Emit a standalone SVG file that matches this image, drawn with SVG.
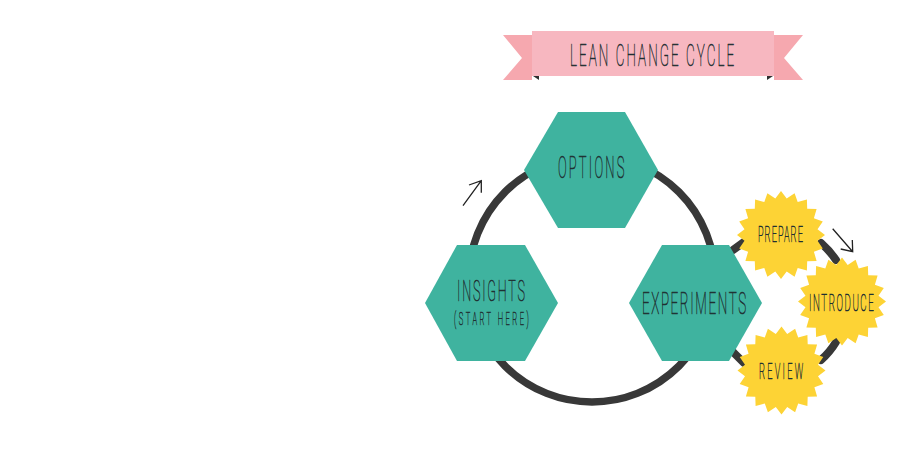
<svg xmlns="http://www.w3.org/2000/svg" width="912" height="456" viewBox="0 0 912 456">
<style>
.hex{fill:#3fb39f}
.burst{fill:#fdd335}
.tail{fill:#f6a8af}
.fold{fill:#2f2f2f}
.ring{fill:none;stroke:#383838;stroke-width:7.500}
.seg{fill:none;stroke:#383838;stroke-width:8;stroke-linecap:round}
.arrow{fill:none;stroke:#222;stroke-width:1.300}
text{font-family:"Roboto","Liberation Sans",sans-serif;font-weight:100;fill:#1f3032;stroke:#1f3032;stroke-width:.6}
</style>
<defs>
<polygon id="star" points="0,-44 5.700,-36.500 13.600,-41.800 16.700,-32.900 25.900,-35.600 26.200,-26.200 35.600,-25.900 32.900,-16.700 41.800,-13.600 36.500,-5.700 44,0 36.500,5.700 41.800,13.600 32.900,16.700 35.600,25.900 26.200,26.200 25.900,35.600 16.700,32.900 13.600,41.800 5.700,36.500 0,44 -5.700,36.500 -13.600,41.800 -16.700,32.900 -25.900,35.600 -26.200,26.200 -35.600,25.900 -32.900,16.700 -41.800,13.600 -36.500,5.700 -44,0 -36.500,-5.700 -41.800,-13.600 -32.900,-16.700 -35.600,-25.900 -26.200,-26.200 -25.900,-35.600 -16.700,-32.900 -13.600,-41.800 -5.700,-36.500"/>
</defs>
<g id="connectors">
<circle class="ring" cx="592" cy="279" r="123"/>
<path class="seg" d="M733 250 L744 242"/>
<path class="seg" d="M821 243 Q830 251 836 260"/>
<path class="seg" d="M821 360 Q830 352 836 342"/>
<path class="seg" d="M733 352 L744 363"/>
<path class="arrow" d="M463 205.700 L481.300 180.700 M469 185 L481.300 180.700 L481.300 192.700"/>
<path class="arrow" d="M832.700 228.700 L852.700 251.700 M852.300 240 L852.700 251.700 L840.700 249"/>
</g>
<g id="banner">
<polygon class="tail" points="503,35 532,35 532,80 503,80 522,58"/>
<polygon class="tail" points="803,35 774,35 774,80 803,80 784,58"/>
<polygon class="fold" points="533,76 539,76 539,80"/>
<polygon class="fold" points="773,76 767,76 767,80"/>
<rect x="532" y="31" width="242" height="45" fill="#f7b7c0"/>
<text transform="translate(570 66) scale(.42 1)" font-size="32" textLength="391" lengthAdjust="spacing">LEAN CHANGE CYCLE</text>
</g>
<g id="options">
<polygon class="hex" points="558,112 625,112 658,170 625,228 558,228 524,170"/>
<text transform="translate(558 178) scale(.42 1)" font-size="31" textLength="158" lengthAdjust="spacing">OPTIONS</text>
</g>
<g id="insights">
<polygon class="hex" points="457,245 525,245 558,303 525,361 457,361 425,303"/>
<text transform="translate(457 300.500) scale(.42 1)" font-size="30" textLength="162" lengthAdjust="spacing">INSIGHTS</text>
<text transform="translate(454 324.500) scale(.42 1)" font-size="18" textLength="178" lengthAdjust="spacing">(START HERE)</text>
</g>
<g id="experiments">
<polygon class="hex" points="662,245 729,245 762,303 729,361 662,361 629,303"/>
<text transform="translate(642 314) scale(.42 1)" font-size="32" textLength="248" lengthAdjust="spacing">EXPERIMENTS</text>
</g>
<g id="prepare">
<use href="#star" class="burst" x="781" y="235"/>
<text transform="translate(758 242) scale(.42 1)" font-size="22" textLength="107" lengthAdjust="spacing">PREPARE</text>
</g>
<g id="introduce">
<use href="#star" class="burst" x="842" y="301.500"/>
<text transform="translate(809 311) scale(.42 1)" font-size="23" textLength="154" lengthAdjust="spacing">INTRODUCE</text>
</g>
<g id="review">
<use href="#star" class="burst" x="781.500" y="370.500"/>
<text transform="translate(759 379) scale(.42 1)" font-size="22" textLength="105" lengthAdjust="spacing">REVIEW</text>
</g>
</svg>
